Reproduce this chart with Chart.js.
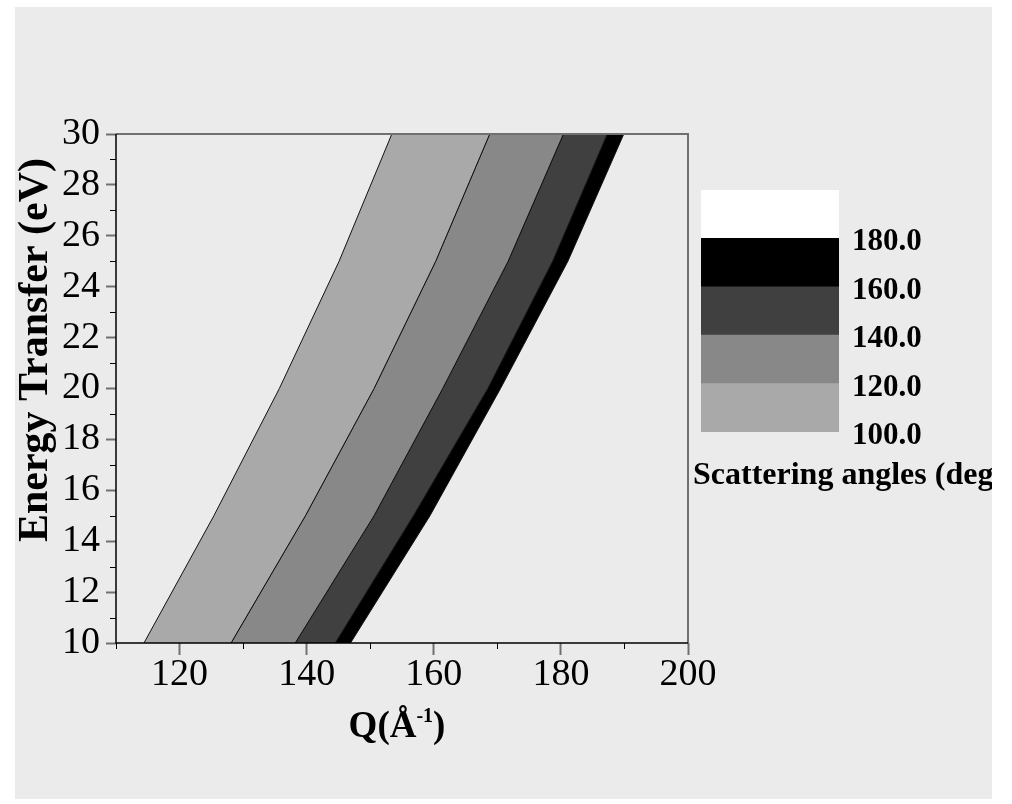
<!DOCTYPE html>
<html lang="en">
<head>
<meta charset="UTF-8" />
<title>Scattering angle contours</title>
<script src="https://cdn.jsdelivr.net/npm/chart.js"></script>
<style>
  body {
    margin: 0;
    background: #fff;
    width: 1012px;
    height: 804px;
    overflow: hidden;
  }
  #panel {
    position: absolute;
    left: 15px;
    top: 7px;
    width: 977px;
    height: 792px;
    background: #ebebeb;
    overflow: hidden;
  }
  #main { position: absolute; left: 0; top: 0; }
  #bar { position: absolute; left: 675px; top: 163px; }
  #barTitle {
    position: absolute;
    left: 678px;
    top: 450px;
    font: bold 32px 'Liberation Serif', serif;
    line-height: 32px;
    white-space: nowrap;
    color: #000;
  }
</style>
</head>
<body>
<div id="panel">
  <canvas id="main" width="977" height="792"></canvas>
  <canvas id="bar" width="300" height="280"></canvas>
  <div id="barTitle">Scattering angles (deg)</div>
</div>

<script>
// energy transfer (eV) at which the contours were read
const energy = [10, 15, 20, 25, 30];
// Q (1/Å) of each scattering-angle contour line
const q100 = [114.4, 125.4, 135.7, 145.1, 153.4];
const q120 = [128.1, 139.8, 150.6, 160.3, 168.8];
const q140 = [138.2, 150.6, 161.4, 171.7, 180.4];
const q160 = [144.5, 156.8, 168.5, 178.7, 187.3];
const q180 = [146.9, 159.4, 170.5, 181.1, 189.9];

const angleLevels = [100, 120, 140, 160, 180, 200];
const bandColors = ['#a9a9a9', '#888888', '#404040', '#000000', '#ffffff'];

const xMajor = [120, 140, 160, 180, 200];
const xMinor = [110, 130, 150, 170, 190];
const yMajor = [10, 12, 14, 16, 18, 20, 22, 24, 26, 28, 30];
const yMinor = [11, 13, 15, 17, 19, 21, 23, 25, 27, 29];

const serif = "'Liberation Serif', 'Times New Roman', serif";

// closed polygon between two contour lines
function band(left, right) {
  const up = energy.map((e, i) => ({ x: left[i], y: e }));
  const down = energy.map((e, i) => ({ x: right[i], y: e })).reverse();
  return up.concat(down);
}

const contours = [q100, q120, q140, q160, q180];
const datasets = [];
for (let i = 0; i < contours.length - 1; i++) {
  datasets.push({
    data: band(contours[i], contours[i + 1]),
    backgroundColor: bandColors[i],
    borderColor: '#111',
    borderWidth: 1,
    fill: 'shape',
    pointRadius: 0,
    tension: 0
  });
}

const frame = {
  id: 'frame',
  afterDraw(chart) {
    const { ctx, chartArea: a, scales } = chart;
    ctx.save();
    // minor ticks
    ctx.strokeStyle = '#000';
    ctx.lineWidth = 1;
    ctx.beginPath();
    yMinor.forEach(v => {
      const p = Math.round(scales.y.getPixelForValue(v)) + 0.5;
      ctx.moveTo(a.left - 6, p);
      ctx.lineTo(a.left, p);
    });
    xMinor.forEach(v => {
      const p = Math.round(scales.x.getPixelForValue(v)) + 0.5;
      ctx.moveTo(p, a.bottom);
      ctx.lineTo(p, a.bottom + 6);
    });
    ctx.stroke();

    // box
    ctx.strokeStyle = '#707070';
    ctx.lineWidth = 2;
    ctx.beginPath();
    ctx.moveTo(a.left, a.top);
    ctx.lineTo(a.right, a.top);
    ctx.lineTo(a.right, a.bottom);
    ctx.stroke();
    ctx.strokeStyle = '#000';
    ctx.lineWidth = 1.5;
    ctx.beginPath();
    ctx.moveTo(a.left, a.top);
    ctx.lineTo(a.left, a.bottom);
    ctx.lineTo(a.right, a.bottom);
    ctx.stroke();

    // axis titles
    ctx.fillStyle = '#000';
    ctx.font = 'bold 42px ' + serif;
    ctx.translate(32, 343);
    ctx.rotate(-Math.PI / 2);
    ctx.textAlign = 'center';
    ctx.textBaseline = 'alphabetic';
    ctx.fillText('Energy Transfer (eV)', 0, 0);
    ctx.setTransform(1, 0, 0, 1, 0, 0);

    const big = 'bold 37px ' + serif;
    const small = 'bold 20px ' + serif;
    ctx.font = big;
    const w1 = ctx.measureText('Q(Å').width;
    const w3 = ctx.measureText(')').width;
    ctx.font = small;
    const w2 = ctx.measureText('-1').width;
    let x = 382 - (w1 + w2 + w3) / 2;
    ctx.textAlign = 'left';
    ctx.font = big;
    ctx.fillText('Q(Å', x, 730);
    x += w1;
    ctx.font = small;
    ctx.fillText('-1', x, 715);
    x += w2;
    ctx.font = big;
    ctx.fillText(')', x, 730);
    ctx.restore();
  }
};

new Chart(document.getElementById('main'), {
  type: 'line',
  data: { datasets },
  plugins: [frame],
  options: {
    responsive: false,
    animation: false,
    layout: { padding: { top: 127, right: 304, left: 0, bottom: 0 } },
    plugins: { legend: { display: false }, tooltip: { enabled: false } },
    scales: {
      x: {
        type: 'linear',
        min: 110,
        max: 200,
        afterBuildTicks: s => { s.ticks = xMajor.map(v => ({ value: v })); },
        afterFit: s => { s.height = 156; },
        border: { display: false },
        grid: { drawOnChartArea: false, tickLength: 12, tickColor: '#707070', tickWidth: 2 },
        ticks: { color: '#000', padding: 1, maxRotation: 0, font: { family: serif, size: 38, lineHeight: 1 } }
      },
      y: {
        type: 'linear',
        min: 10,
        max: 30,
        afterBuildTicks: s => { s.ticks = yMajor.map(v => ({ value: v })); },
        afterFit: s => { s.width = 101; },
        border: { display: false },
        grid: { drawOnChartArea: false, tickLength: 10, tickColor: '#707070', tickWidth: 2 },
        ticks: { color: '#000', padding: 6, font: { family: serif, size: 38 } }
      }
    }
  }
});

// colour scale
const barSets = [];
for (let i = 0; i < angleLevels.length - 1; i++) {
  barSets.push({
    data: [[angleLevels[i], angleLevels[i + 1]]],
    backgroundColor: bandColors[i],
    borderWidth: 0,
    barPercentage: 1,
    categoryPercentage: 1,
    grouped: false
  });
}

new Chart(document.getElementById('bar'), {
  type: 'bar',
  data: { labels: [''], datasets: barSets },
  options: {
    responsive: false,
    animation: false,
    layout: { padding: { left: 11, top: 20, bottom: 18, right: 0 } },
    plugins: { legend: { display: false }, tooltip: { enabled: false } },
    scales: {
      x: { display: false },
      y: {
        position: 'right',
        min: 100,
        max: 200,
        afterBuildTicks: s => { s.ticks = angleLevels.slice(0, 5).map(v => ({ value: v })); },
        afterFit: s => {
          s.width = 151;
          s.paddingTop = 0;
          s.paddingBottom = 0;
        },
        border: { display: false },
        grid: { display: false, drawTicks: false },
        ticks: {
          color: '#000',
          padding: 13,
          labelOffset: 4,
          callback: v => v.toFixed(1),
          font: { family: serif, size: 31, weight: 'bold' }
        }
      }
    }
  }
});
</script>
</body>
</html>
